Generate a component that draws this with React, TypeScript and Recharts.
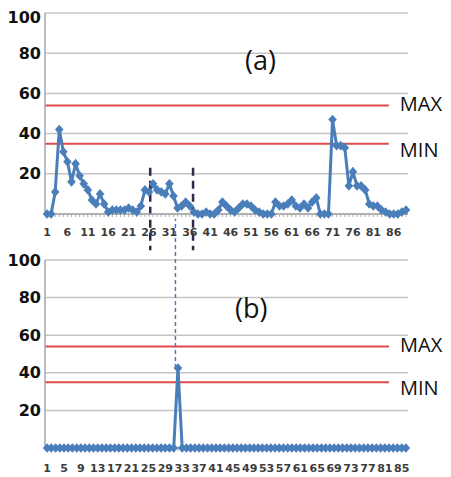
import React from 'react';
import { LineChart, Line, XAxis, YAxis, CartesianGrid, ReferenceLine } from 'recharts';

// ---- data ----
const topValues = [
  0, 0, 11, 42, 31, 26, 16, 25, 19, 15,
  12, 7, 5, 10, 5, 1, 2, 2, 2, 2,
  3, 2, 1, 4, 12, 11, 15, 12, 11, 10,
  15, 9, 3, 4, 6, 4, 1, 0, 0, 1,
  0, 0, 2, 6, 4, 2, 1, 3, 5, 5,
  4, 2, 1, 0, 0, 0, 6, 4, 4, 5,
  7, 4, 3, 5, 3, 6, 8, 0, 0, 0,
  47, 34, 34, 33, 14, 21, 14, 14, 12, 5,
  4, 4, 2, 1, 0, 0, 0, 1, 2,
];
const bottomSpikeIndex = 32;
const bottomSpikeValue = 42.5;
const bottomCount = 86;
const bottomValues = Array.from({ length: bottomCount }, (_, i) => (i + 1 === bottomSpikeIndex ? bottomSpikeValue : 0));

const topLabels = [1, 6, 11, 16, 21, 26, 31, 36, 41, 46, 51, 56, 61, 66, 71, 76, 81, 86];
const bottomLabels = [1, 5, 9, 13, 17, 21, 25, 29, 33, 37, 41, 45, 49, 53, 57, 61, 65, 69, 73, 77, 81, 85];
const yTicks = [20, 40, 60, 80, 100];
const MAX_LEVEL = 54;
const MIN_LEVEL = 35;

const topData = topValues.map((v, i) => ({ x: i + 1, v }));
const bottomData = bottomValues.map((v, i) => ({ x: i + 1, v }));
const topTicks = topData.map((d) => d.x);
const bottomTicks = bottomData.map((d) => d.x);

const BLUE = '#4a7ebb';
const RED = '#de4a4a';

const Diamond = (props: any) => {
  const { cx, cy } = props;
  if (cx == null || cy == null) return null;
  return <path d={`M${cx},${cy - 4.8}L${cx + 4.3},${cy}L${cx},${cy + 4.8}L${cx - 4.3},${cy}Z`} fill={BLUE} />;
};

const makeXTick = (labels: number[], dy: number) => (props: any) => {
  const { x, y, payload } = props;
  if (!labels.includes(payload.value)) return <g />;
  return (
    <text x={x} y={y + dy} textAnchor="middle" fontFamily="DejaVu Sans" fontWeight="bold" fontSize={11} fill="#3c3c3c">
      {payload.value}
    </text>
  );
};

const labelStyle = (value: string, dy: number) => ({
  value,
  position: 'right' as const,
  offset: 11,
  fontSize: 20,
  fontFamily: 'Open Sans',
  fill: '#111',
  dy,
});

const yAxisProps = {
  type: 'number' as const,
  domain: [0, 100],
  ticks: yTicks,
  width: 37,
  tickLine: false,
  tickSize: 0,
  tickMargin: 4,
  axisLine: { stroke: '#a6a6a6', strokeWidth: 1.5 },
  tick: { fontFamily: 'DejaVu Sans', fontWeight: 'bold', fontSize: 16, fill: '#111' },
};

export default function App() {
  return (
    <div style={{ position: 'relative', width: 435, height: 469 }}>
      <div style={{ position: 'absolute', left: 0, top: 0 }}>
        <LineChart width={435} height={252} data={topData} margin={{ top: 5, right: 35, bottom: 16, left: 0 }}>
          <CartesianGrid vertical={false} stroke="#c4c4c4" strokeWidth={1.5} />
          <XAxis
            dataKey="x"
            type="number"
            domain={[0.5, 89.5]}
            ticks={topTicks}
            interval={0}
            height={30}
            tickSize={3}
            axisLine={{ stroke: '#a6a6a6', strokeWidth: 1.5 }}
            tickLine={{ stroke: '#b0b0b0' }}
            tick={makeXTick(topLabels, 17)}
          />
          <YAxis {...yAxisProps} />
          <ReferenceLine
            segment={[{ x: 0.5, y: MAX_LEVEL }, { x: 84.8, y: MAX_LEVEL }]}
            stroke={RED}
            strokeWidth={2}
            ifOverflow="visible"
            label={labelStyle('MAX', -2)}
          />
          <ReferenceLine
            segment={[{ x: 0.5, y: MIN_LEVEL }, { x: 84.8, y: MIN_LEVEL }]}
            stroke={RED}
            strokeWidth={2}
            ifOverflow="visible"
            label={labelStyle('MIN', 6)}
          />
          <Line type="linear" dataKey="v" stroke={BLUE} strokeWidth={3} dot={<Diamond />} isAnimationActive={false} />
          <ReferenceLine
            segment={[{ x: 26.3, y: 23 }, { x: 26.3, y: -18 }]}
            stroke="#2d2a4a"
            strokeWidth={2.5}
            strokeDasharray="8 5"
            ifOverflow="visible"
          />
          <ReferenceLine
            segment={[{ x: 36.8, y: 23 }, { x: 36.8, y: -18 }]}
            stroke="#2d2a4a"
            strokeWidth={2.5}
            strokeDasharray="8 5"
            ifOverflow="visible"
          />
        </LineChart>
      </div>
      <div style={{ position: 'absolute', left: 0, top: 202 }}>
        <LineChart width={435} height={267} data={bottomData} margin={{ top: 50, right: 35, bottom: 4, left: 0 }}>
          <CartesianGrid vertical={false} stroke="#c4c4c4" strokeWidth={1.5} />
          <XAxis
            dataKey="x"
            type="number"
            domain={[0.5, 86.5]}
            ticks={bottomTicks}
            interval={0}
            height={25}
            tickSize={3}
            axisLine={{ stroke: '#a6a6a6', strokeWidth: 1.5 }}
            tickLine={{ stroke: '#b0b0b0' }}
            tick={makeXTick(bottomLabels, 19)}
          />
          <YAxis {...yAxisProps} />
          <ReferenceLine
            segment={[{ x: 0.5, y: MAX_LEVEL }, { x: 82, y: MAX_LEVEL }]}
            stroke={RED}
            strokeWidth={2}
            ifOverflow="visible"
            label={labelStyle('MAX', -2)}
          />
          <ReferenceLine
            segment={[{ x: 0.5, y: MIN_LEVEL }, { x: 82, y: MIN_LEVEL }]}
            stroke={RED}
            strokeWidth={2}
            ifOverflow="visible"
            label={labelStyle('MIN', 6)}
          />
          <ReferenceLine
            segment={[{ x: 31.4, y: bottomSpikeValue }, { x: 31.4, y: 122 }]}
            stroke={BLUE}
            strokeWidth={1.5}
            strokeDasharray="4 3"
            ifOverflow="visible"
          />
          <Line type="linear" dataKey="v" stroke={BLUE} strokeWidth={3} dot={<Diamond />} isAnimationActive={false} />
        </LineChart>
      </div>
      <div style={{ position: 'absolute', left: 237, top: 37, fontFamily: 'Open Sans', fontSize: 27, lineHeight: '30px', color: '#111' }}>(a)</div>
      <div style={{ position: 'absolute', left: 227, top: 285, fontFamily: 'Open Sans', fontSize: 27, lineHeight: '30px', color: '#111' }}>(b)</div>
    </div>
  );
}
